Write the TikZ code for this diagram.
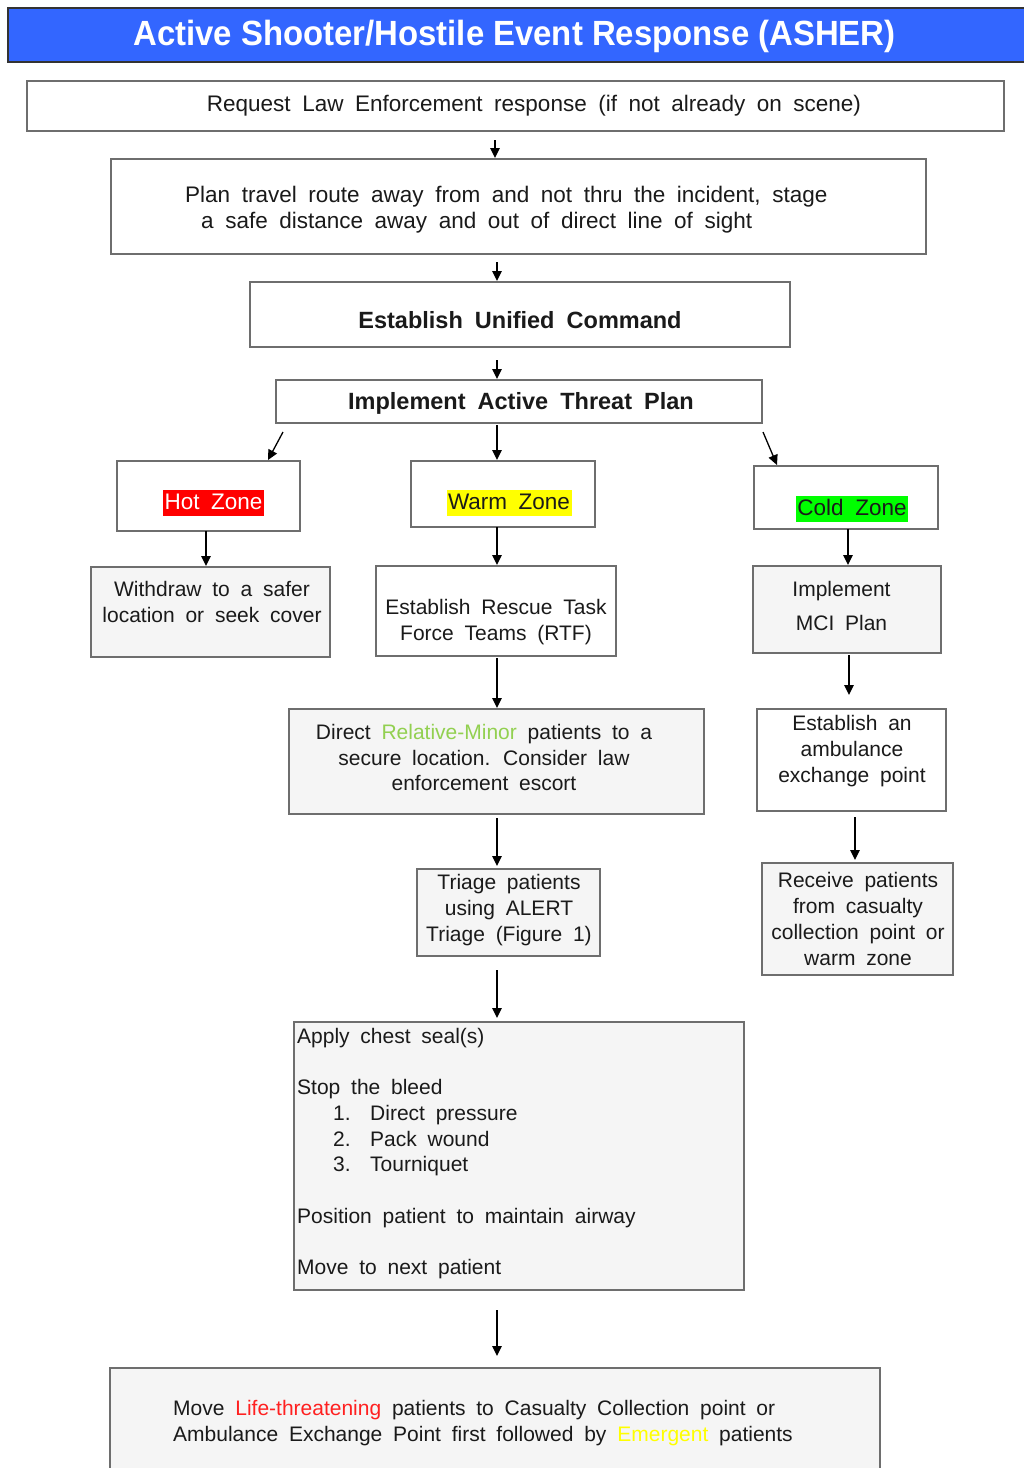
\documentclass[tikz,border=0pt]{standalone}
\usepackage{fontspec}
\usepackage{graphicx}
\setmainfont{Liberation Sans}[WordSpace=1.85]
\newfontfamily\titlefont{Liberation Sans}
\usetikzlibrary{arrows.meta}

\definecolor{titleblue}{HTML}{3366FF}
\definecolor{boxline}{HTML}{6E6E6E}
\definecolor{boxfill}{HTML}{F5F5F5}
\definecolor{ink}{HTML}{1A1A1A}
\definecolor{hotred}{HTML}{FF0000}
\definecolor{warmyellow}{HTML}{FFFF00}
\definecolor{coldgreen}{HTML}{00FF00}
\definecolor{minorgreen}{HTML}{92D050}
\definecolor{lifered}{HTML}{FF2020}

\newcommand{\zonemark}[3]{{\setlength{\fboxsep}{1.5pt}\colorbox{#1}{\textcolor{#2}{\rule[-5.5pt]{0pt}{23pt}#3}}}}

\begin{document}
\begin{tikzpicture}[x=1pt,y=-1pt,
    box/.style={draw=boxline,line width=2pt,fill=white,inner sep=0pt,outer sep=0pt},
    graybox/.style={box,fill=boxfill},
    txt/.style={font=\fontsize{21}{25.7}\selectfont,text=ink,align=center,inner sep=0pt},
    bigtxt/.style={txt,font=\fontsize{22.5}{26}\selectfont},
    boldtxt/.style={txt,font=\fontsize{23.5}{27}\selectfont\bfseries},
    arr/.style={-{Triangle[length=10pt,width=9.5pt]},line width=1.3pt,black}]
  \useasboundingbox (0,0) rectangle (1024,1468);
  \clip (0,0) rectangle (1024,1468);

  % title bar
  \node[box,draw=black!80,line width=1.5pt,fill=titleblue,minimum width=1022,minimum height=54,
    label={[txt,xshift=-4.5pt,yshift=-1pt,font=\titlefont\fontsize{35}{38}\selectfont\bfseries,text=white]center:\scalebox{0.94}[1]{Active Shooter/Hostile Event Response (ASHER)}}]
    (title) at (519,35) {};

  % top of the chain
  \node[box,minimum width=977,minimum height=50,
    label={[bigtxt,xshift=18.5pt,yshift=0.5pt]center:Request Law Enforcement response (if not already on scene)}]
    (req) at (515.5,106) {};
  \node[box,minimum width=815,minimum height=95,
    label={[bigtxt,align=left,anchor=west,xshift=74pt,yshift=-3.5pt]west:{Plan travel route away from and not thru the incident, stage\\\hspace*{16pt}a safe distance away and out of direct line of sight}}]
    (plan) at (518.5,206.5) {};
  \node[box,minimum width=540,minimum height=65,
    label={[boldtxt,yshift=-6pt]center:Establish Unified Command}]
    (cmd) at (520,314.5) {};
  \node[box,minimum width=486,minimum height=43,
    label={[boldtxt,xshift=2pt,yshift=-1.5pt]center:Implement Active Threat Plan}]
    (threat) at (519,401.5) {};

  % zones
  \node[box,minimum width=183,minimum height=70,
    label={[bigtxt,xshift=5pt,yshift=-7pt]center:\zonemark{hotred}{white}{Hot Zone}}]
    (hot) at (208.5,496) {};
  \node[box,minimum width=184,minimum height=66,
    label={[bigtxt,xshift=6pt,yshift=-9pt]center:\zonemark{warmyellow}{ink}{Warm Zone}}]
    (warm) at (503,494) {};
  \node[box,minimum width=184,minimum height=63,
    label={[bigtxt,xshift=6pt,yshift=-11.5pt]center:\zonemark{coldgreen}{ink}{Cold Zone}}]
    (cold) at (846,497.5) {};

  % hot zone
  \node[graybox,minimum width=239,minimum height=90,
    label={[txt,xshift=1.5pt,yshift=10pt]center:Withdraw to a safer\\location or seek cover}]
    (withdraw) at (210.5,612) {};

  % warm zone
  \node[box,minimum width=240,minimum height=90,
    label={[txt,yshift=-11pt]center:Establish Rescue Task\\Force Teams (RTF)}]
    (rtf) at (496,611) {};
  \node[graybox,minimum width=415,minimum height=105,
    label={[txt,xshift=-12.5pt,yshift=4pt]center:Direct \textcolor{minorgreen}{Relative-Minor} patients to a\\secure location. Consider law\\enforcement escort}]
    (direct) at (496.5,761.5) {};
  \node[graybox,minimum width=183,minimum height=87,
    label={[txt,xshift=0.5pt,yshift=2.5pt]center:Triage patients\\using ALERT\\Triage (Figure 1)}]
    (triage) at (508.5,912.5) {};
  \node[graybox,minimum width=450,minimum height=268,
    label={[txt,align=left,anchor=west,xshift=3pt,yshift=2.5pt]west:{Apply chest seal(s)\\[25.6pt]
      Stop the bleed\\
      \hspace*{36pt}\makebox[37pt][l]{1.}Direct pressure\\
      \hspace*{36pt}\makebox[37pt][l]{2.}Pack wound\\
      \hspace*{36pt}\makebox[37pt][l]{3.}Tourniquet\\[25.6pt]
      Position patient to maintain airway\\[25.6pt]
      Move to next patient}}]
    (chest) at (519,1156) {};
  \node[graybox,minimum width=770,minimum height=132,
    label={[txt,align=left,anchor=west,xshift=63pt,yshift=11pt]west:{Move \textcolor{lifered}{Life-threatening} patients to Casualty Collection point or\\Ambulance Exchange Point first followed by \textcolor{warmyellow}{Emergent} patients}}]
    (move) at (495,1434) {};

  % cold zone
  \node[graybox,minimum width=188,minimum height=87,
    label={[txt,xshift=-5.5pt,yshift=3.5pt]center:Implement\\[8.3pt]MCI Plan}]
    (mci) at (847,609.5) {};
  \node[box,minimum width=189,minimum height=102,
    label={[txt,xshift=0.5pt,yshift=9pt]center:Establish an\\ambulance\\exchange point}]
    (amb) at (851.5,760) {};
  \node[graybox,minimum width=191,minimum height=112,
    label={[txt,xshift=0.5pt]center:Receive patients\\from casualty\\collection point or\\warm zone}]
    (receive) at (857.5,919) {};

  % arrows
  \draw[arr] ([xshift=-20.5pt,yshift=-9pt]req.south) -- ([xshift=-23.5pt,yshift=1pt]plan.north);
  \draw[arr] ([xshift=-21.5pt,yshift=-8pt]plan.south) -- ([xshift=-23pt,yshift=1pt]cmd.north);
  \draw[arr] ([xshift=-23pt,yshift=-13pt]cmd.south) -- ([xshift=-22pt,yshift=1pt]threat.north);
  \draw[arr] ([xshift=7pt,yshift=-9pt]threat.south west) -- ([xshift=59.5pt,yshift=1pt]hot.north);
  \draw[arr] ([xshift=-22pt,yshift=-2pt]threat.south) -- ([xshift=-6pt,yshift=1pt]warm.north);
  \draw[arr] ([xshift=1pt,yshift=-9pt]threat.south east) -- ([xshift=-69pt,yshift=1pt]cold.north);
  \draw[arr] ([xshift=-2.5pt]hot.south) -- ([xshift=-4.5pt,yshift=1pt]withdraw.north);
  \draw[arr] ([xshift=-6pt]warm.south) -- ([xshift=1pt,yshift=1pt]rtf.north);
  \draw[arr] ([xshift=2pt]cold.south) -- ([xshift=1pt,yshift=1pt]mci.north);
  \draw[arr] ([xshift=1pt,yshift=-2pt]rtf.south) -- ([xshift=0.5pt,yshift=1pt]direct.north);
  \draw[arr] ([xshift=0.5pt,yshift=-4pt]direct.south) -- ([xshift=-11.5pt,yshift=3pt]triage.north);
  \draw[arr] ([xshift=-11.5pt,yshift=-14pt]triage.south) -- ([xshift=-22pt,yshift=4pt]chest.north);
  \draw[arr] ([xshift=-22pt,yshift=-20pt]chest.south) -- ([xshift=2pt,yshift=12pt]move.north);
  \draw[arr] ([xshift=2pt,yshift=-2pt]mci.south) -- ([xshift=-2.5pt,yshift=14pt]amb.north);
  \draw[arr] ([xshift=3.5pt,yshift=-6pt]amb.south) -- ([xshift=-2.5pt,yshift=3pt]receive.north);
\end{tikzpicture}
\end{document}
